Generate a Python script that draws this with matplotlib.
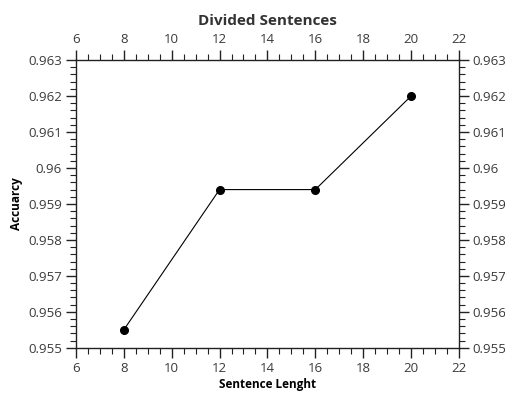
import numpy as np
import matplotlib
matplotlib.use("Agg")
import matplotlib.pyplot as plt
from matplotlib.ticker import MultipleLocator

plt.rcParams['font.family'] = ['Open Sans', 'DejaVu Sans']

sentence_length = [8, 12, 16, 20]
accuracy = [0.9555, 0.9594, 0.9594, 0.962]

fig = plt.figure(figsize=(5.06, 3.98), dpi=100)
ax = fig.add_axes([0.150, 0.126, 0.757, 0.723])

ax.plot(sentence_length, accuracy, color='black', linewidth=0.8,
        marker='o', markersize=5.5)

ax.set_xlim(6, 22)
ax.set_ylim(0.955, 0.963)
ax.xaxis.set_major_locator(MultipleLocator(2))
ax.xaxis.set_minor_locator(MultipleLocator(0.5))
ax.yaxis.set_major_locator(MultipleLocator(0.001))
ax.yaxis.set_minor_locator(MultipleLocator(0.0002))
ax.yaxis.set_major_formatter(plt.FuncFormatter(lambda v, p: ('%.3f' % v).rstrip('0')))

ax.tick_params(which='both', direction='out', top=True, right=True,
               labeltop=True, labelright=True, labelsize=9.5,
               labelcolor='#3a3a3a', color='#222222', pad=2.5)
ax.tick_params(which='major', length=7.5, width=1)
ax.tick_params(which='minor', length=4.5, width=0.8)
for s in ax.spines.values():
    s.set_color('#222222')
    s.set_linewidth(1)

ax.set_title("Divided Sentences", fontsize=11, fontweight='bold',
             color='#333333', pad=6)
ax.set_xlabel("Sentence Lenght", fontsize=8.5, fontweight='bold', labelpad=2)
ax.set_ylabel("Accuarcy", fontsize=8.5, fontweight='bold', labelpad=4)

fig.savefig("out.png", dpi=100)
